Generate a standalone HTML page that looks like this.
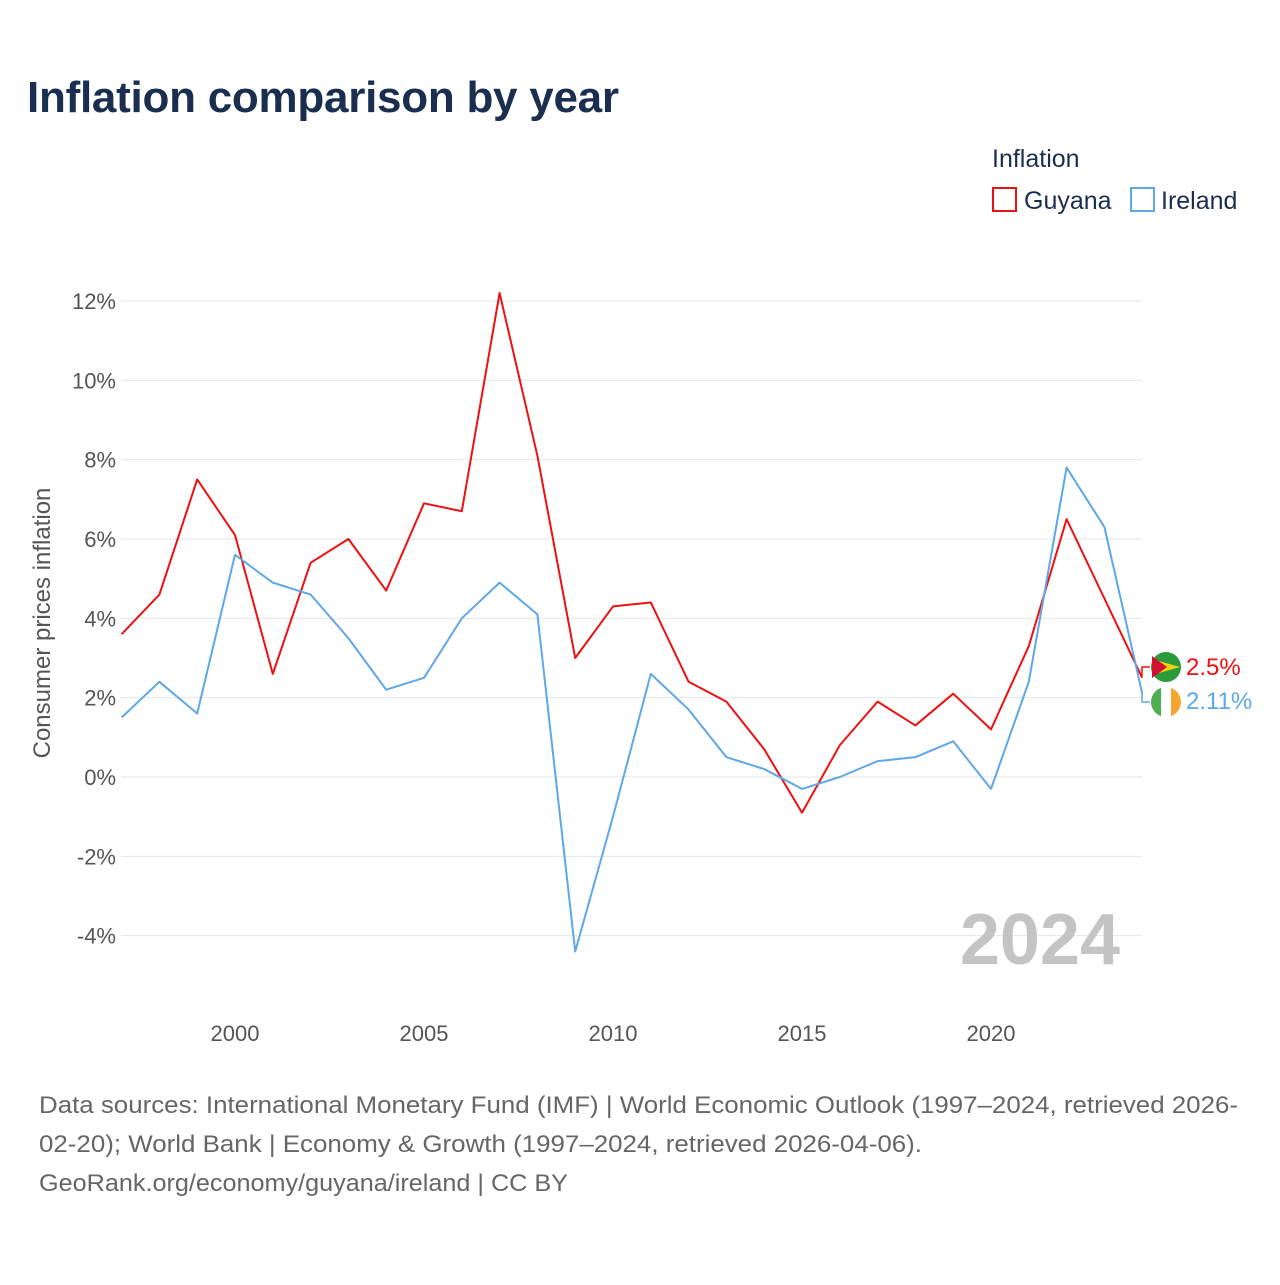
<!DOCTYPE html>
<html><head><meta charset="utf-8"><style>
body{margin:0;background:#fff;font-family:"Liberation Sans",sans-serif}
svg text{font-family:"Liberation Sans",sans-serif}
</style></head><body>
<svg width="1280" height="1280" viewBox="0 0 1280 1280">
<text x="27" y="112" font-size="44" font-weight="bold" fill="#1a2e4f" textLength="592">Inflation comparison by year</text>
<text x="992" y="167" font-size="25" fill="#1a2e4f">Inflation</text>
<g><rect x="993" y="188" width="23" height="23" fill="none" stroke="#ee1111" stroke-width="2"/><text x="1024" y="209" font-size="25" fill="#1a2e4f">Guyana</text></g>
<g><rect x="1131" y="188" width="23" height="23" fill="none" stroke="#5ea8e8" stroke-width="2"/><text x="1161" y="209" font-size="25" fill="#1a2e4f">Ireland</text></g>
<g id="grid"></g><g id="yt"></g><g id="xt"></g>
<text transform="translate(50,623) rotate(-90)" text-anchor="middle" font-size="24" fill="#555">Consumer prices inflation</text>
<text x="1120" y="964" text-anchor="end" font-size="72" font-weight="bold" fill="#c4c4c4">2024</text>
<g id="lines"></g>
<g>
<polyline points="1142,676 1142,667 1150,667" fill="none" stroke="#ee1111" stroke-width="1.5"/>
<circle cx="1166" cy="667" r="15" fill="#2a9a3a"/>
<path d="M1152,659 L1180,667 L1152,675 Z" fill="#f2d21b"/>
<path d="M1152,656 L1167,667 L1152,678 Z" fill="#d21034"/>
<text x="1186" y="675" font-size="24" fill="#ee1111">2.5%</text></g>
<g>
<polyline points="1142,692 1142,702 1150,702" fill="none" stroke="#5ea8e8" stroke-width="1.5"/>
<clipPath id="ic"><circle cx="1166" cy="702" r="15"/></clipPath>
<g clip-path="url(#ic)"><rect x="1151" y="687" width="10" height="30" fill="#4caf50"/><rect x="1161" y="687" width="10" height="30" fill="#fff"/><rect x="1171" y="687" width="10" height="30" fill="#f7a530"/></g>
<text x="1186" y="709" font-size="24" fill="#5ea8e8">2.11%</text></g>
<g font-size="24" fill="#666">
<text x="39" y="1113" textLength="1199" lengthAdjust="spacingAndGlyphs">Data sources: International Monetary Fund (IMF) | World Economic Outlook (1997–2024, retrieved 2026-</text>
<text x="39" y="1152" textLength="883" lengthAdjust="spacingAndGlyphs">02-20); World Bank | Economy &amp; Growth (1997–2024, retrieved 2026-04-06).</text>
<text x="39" y="1191" textLength="529" lengthAdjust="spacingAndGlyphs">GeoRank.org/economy/guyana/ireland | CC BY</text>
</g>
</svg>
<script>
const years=[1997,1998,1999,2000,2001,2002,2003,2004,2005,2006,2007,2008,2009,2010,2011,2012,2013,2014,2015,2016,2017,2018,2019,2020,2021,2022,2023,2024];
const guyana=[3.6,4.6,7.5,6.1,2.6,5.4,6.0,4.7,6.9,6.7,12.2,8.1,3.0,4.3,4.4,2.4,1.9,0.7,-0.9,0.8,1.9,1.3,2.1,1.2,3.3,6.5,4.5,2.5];
const ireland=[1.5,2.4,1.6,5.6,4.9,4.6,3.5,2.2,2.5,4.0,4.9,4.1,-4.4,-1.0,2.6,1.7,0.5,0.2,-0.3,0.0,0.4,0.5,0.9,-0.3,2.4,7.8,6.3,2.11];
const yTicks=[-4,-2,0,2,4,6,8,10,12];
const xTicks=[2000,2005,2010,2015,2020];
const NS="http://www.w3.org/2000/svg";
const x=v=>121.6+(v-1997)*37.8;
const y=v=>777-v*39.667;
function mk(t,a,p){const e=document.createElementNS(NS,t);for(const k in a)e.setAttribute(k,a[k]);p.appendChild(e);return e;}
const grid=document.getElementById('grid'),yt=document.getElementById('yt'),xt=document.getElementById('xt'),lines=document.getElementById('lines');
yTicks.forEach(v=>{
 const l=mk('line',{x1:121,x2:1142,y1:y(v),y2:y(v),stroke:'#e6e6e6','stroke-width':1},grid);
 
 
 const t=mk('text',{x:116,y:y(v)+8,'text-anchor':'end','font-size':22,fill:'#555'},yt);
 t.textContent=v+'%';
 
 
});
xTicks.forEach(v=>{
 const t=mk('text',{x:x(v),y:1041,'text-anchor':'middle','font-size':22,fill:'#555'},xt);
 t.textContent=v;
 
 
});
[[guyana,'#ee1111','guyana-line'],[ireland,'#5ea8e8','ireland-line']].forEach(([d,c,n])=>{
 const p=mk('polyline',{points:d.map((v,i)=>x(years[i])+','+y(v)).join(' '),fill:'none',stroke:c,'stroke-width':2,'stroke-linejoin':'round'},lines);
 
 
});
</script>
</body></html>
